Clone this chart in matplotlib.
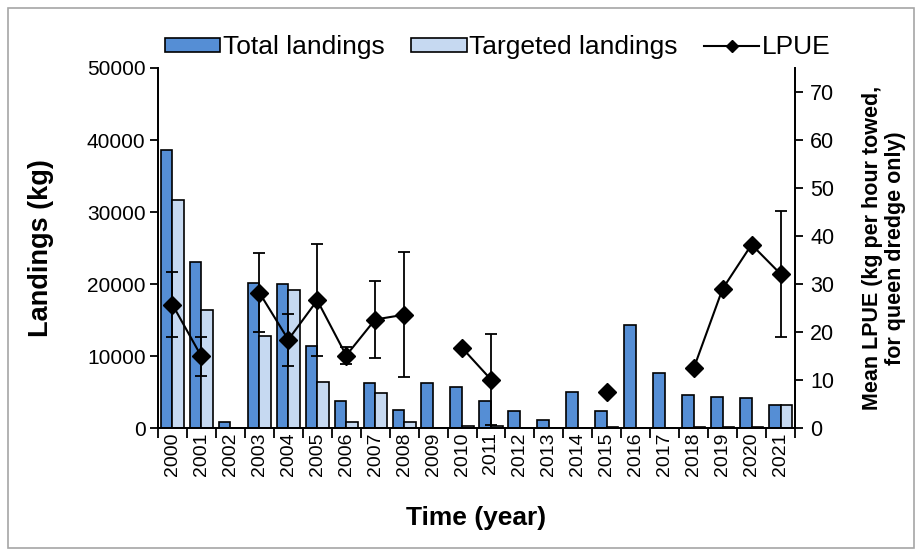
import numpy as np
import matplotlib
matplotlib.use("Agg")
import matplotlib.pyplot as plt
from matplotlib.patches import Rectangle
from matplotlib.lines import Line2D

plt.rcParams['font.family'] = ['Liberation Sans', 'DejaVu Sans']

years = list(range(2000, 2022))
total = [38600, 23000, 900, 20100, 20000, 11400, 3800, 6200, 2500, 6300, 5700,
         3700, 2400, 1100, 5000, 2300, 14300, 7600, 4600, 4350, 4200, 3250]
targeted = [31700, 16400, 0, 12800, 19100, 6400, 790, 4900, 800, 0, 250,
            300, 0, 0, 0, 150, 0, 0, 150, 150, 200, 3250]
lpue = [25.7, 14.9, np.nan, 28.2, 18.4, 26.6, 15.1, 22.6, 23.6, np.nan, 16.7,
        10.1, np.nan, np.nan, np.nan, 7.5, np.nan, np.nan, 12.4, 29.0, 38.2, 32.1]
lpue_err = [6.7, 4.0, np.nan, 8.3, 5.4, 11.7, 1.7, 8.0, 13.0, np.nan, np.nan,
            9.5, np.nan, np.nan, np.nan, np.nan, np.nan, np.nan, np.nan, np.nan, np.nan, 13.1]

fig = plt.figure(figsize=(9.22, 5.56), dpi=100)
ax = fig.add_axes([158/922, 1 - 428/556, (795 - 158)/922, (428 - 68)/556])
ax2 = ax.twinx()

x = np.arange(len(years))
b1 = ax.bar(x - 0.2, total, width=0.4, color='#558ED5', edgecolor='black', linewidth=1.2,
            label='Total landings', zorder=2)
b2 = ax.bar(x + 0.2, targeted, width=0.4, color='#C6D9F1', edgecolor='black', linewidth=1.2,
            label='Targeted landings', zorder=2)

ax2.errorbar(x, lpue, yerr=lpue_err, fmt='none', ecolor='black', elinewidth=1.3,
             capsize=4.5, capthick=1.3, zorder=3)
ax2.plot(x, lpue, color='black', linewidth=1.5, marker='D', markersize=9, zorder=4)

ax.set_xlim(-0.5, len(years) - 0.5)
ax.set_ylim(0, 50000)
ax.set_yticks(range(0, 50001, 10000))
ax2.set_ylim(0, 75)
ax2.set_yticks(range(0, 71, 10))

ax.set_xticks(x)
ax.set_xticklabels([str(y) for y in years], rotation=90)
ax.set_xticks(np.arange(-0.5, len(years)), minor=True)
ax.tick_params(axis='x', which='major', length=0, labelsize=14, pad=3)
ax.tick_params(axis='x', which='minor', length=7, width=1.3)
ax.tick_params(axis='y', labelsize=15, length=6, width=1.3, pad=3)
ax2.tick_params(axis='y', labelsize=15.5, length=6, width=1.3, pad=5)

for a in (ax, ax2):
    a.spines['top'].set_visible(False)
    for s in ('left', 'right', 'bottom'):
        a.spines[s].set_linewidth(1.3)

ax.set_ylabel('Landings (kg)', fontsize=19.5, fontweight='bold', labelpad=24)
ax.set_xlabel('Time (year)', fontsize=19, fontweight='bold', labelpad=22)
ax2.set_ylabel('Mean LPUE (kg per hour towed,\nfor queen dredge only)', fontsize=15.5,
               fontweight='bold', rotation=90, labelpad=20, linespacing=1.1)

lp = Line2D([], [], color='black', linewidth=1.5, marker='D', markersize=6)
fig.legend([b1, b2, lp], ['Total landings', 'Targeted landings', 'LPUE'],
           loc='center', bbox_to_anchor=(0.54, 0.915), ncol=3, frameon=False,
           fontsize=19, handlelength=2.1, handleheight=0.45, columnspacing=1.0,
           handletextpad=0.1, borderaxespad=0)

fig.patches.append(Rectangle((8/922, 8/556), 906/922, 540/556, transform=fig.transFigure,
                             fill=False, edgecolor='#A6A6A6', linewidth=1.2))

fig.savefig('out.png', dpi=100)
